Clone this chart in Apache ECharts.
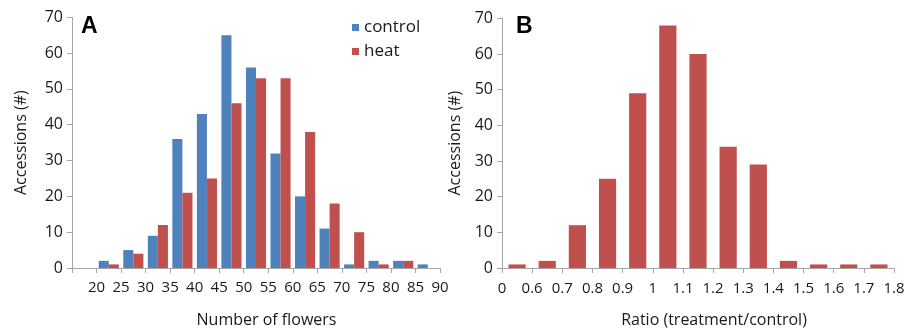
<!DOCTYPE html>
<html>
<head>
<meta charset="utf-8">
<script src="https://cdn.jsdelivr.net/npm/echarts@6/dist/echarts.min.js"></script>
<style>html,body{margin:0;padding:0;background:#fff;}#c{width:910px;height:333px;}</style>
</head>
<body>
<div id="c"></div>
<script>
// Panel A: 15 slots; tick labels sit at the right boundary of each slot
const tickLabelsA = ['20','25','30','35','40','45','50','55','60','65','70','75','80','85','90'];
const controlA = [0, 2, 5, 9, 36, 43, 65, 56, 32, 20, 11, 1, 2, 2, 1];
const heatA    = [0, 1, 4, 12, 21, 25, 46, 53, 53, 38, 18, 10, 1, 2, 0];
// Panel B: 13 slots; tick labels at every slot boundary (incl. origin)
const tickLabelsB = ['0','0.6','0.7','0.8','0.9','1','1.1','1.2','1.3','1.4','1.5','1.6','1.7','1.8'];
const ratioB = [1, 2, 12, 25, 49, 68, 60, 34, 29, 2, 1, 1, 1];

const FONT = 'Open Sans';
const AX = '#a6a6a6';
const TXT = '#1a1a1a';
const BLUE = '#4F81BD', RED = '#C0504D';

const gA = {left: 72, top: 17.3, width: 368, height: 253.4};
const gB = {left: 502, top: 18.3, width: 392, height: 253.4};

function yMain(gi, gap) {
  return {
    type: 'value', gridIndex: gi, min: 0, max: 70, interval: 10,
    axisLine: {show: true, lineStyle: {color: AX}},
    axisTick: {show: true, length: 5, lineStyle: {color: AX}},
    splitLine: {show: false},
    axisLabel: {fontFamily: FONT, fontSize: 16, color: TXT, margin: 9},
    name: 'Accessions (#)', nameLocation: 'middle', nameGap: gap,
    nameTextStyle: {fontFamily: FONT, fontSize: 16, color: TXT}
  };
}
function yHidden(gi) {
  return {type: 'value', gridIndex: gi, min: 0, max: 70, show: false};
}
function xCat(gi, n, name, gap, shift) {
  return {
    type: 'category', gridIndex: gi, data: Array.from({length: n}, (_, i) => String(i)),
    axisLine: {show: true, lineStyle: {color: AX}},
    axisTick: {show: true, length: 5, lineStyle: {color: AX}},
    axisLabel: {show: false},
    name: name, nameLocation: 'middle', nameGap: gap,
    nameTextStyle: {fontFamily: FONT, fontSize: 16, color: TXT, padding: [0, 0, 0, shift]}
  };
}
function xLab(gi, n, fmt) {
  return {
    type: 'value', gridIndex: gi, min: 0, max: n, interval: 1,
    axisLine: {show: false}, axisTick: {show: false}, splitLine: {show: false},
    axisLabel: {show: true, showMinLabel: true, showMaxLabel: true, formatter: fmt,
      fontFamily: FONT, fontSize: 15, color: TXT, margin: 10}
  };
}

const option = {
  animation: false,
  backgroundColor: '#fff',
  title: [
    {text: 'A', left: 81, top: 15, padding: 0, textStyle: {fontFamily: 'Liberation Sans', fontWeight: 'bold', fontSize: 23, color: '#000'}},
    {text: 'B', left: 516, top: 15, padding: 0, textStyle: {fontFamily: 'Liberation Sans', fontWeight: 'bold', fontSize: 23, color: '#000'}}
  ],
  legend: {
    data: ['control', 'heat'], orient: 'vertical', left: 352, top: 19,
    icon: 'rect', itemWidth: 7, itemHeight: 7, itemGap: 7, padding: 0,
    textStyle: {fontFamily: FONT, fontSize: 17, color: TXT}
  },
  grid: [gA, gA, gB, gB],
  xAxis: [
    xCat(0, tickLabelsA.length, 'Number of flowers', 44, 21),
    xLab(1, tickLabelsA.length, v => (v >= 1 ? tickLabelsA[v - 1] : '')),
    xCat(2, ratioB.length, 'Ratio (treatment/control)', 44, 32),
    xLab(3, ratioB.length, v => tickLabelsB[v])
  ],
  yAxis: [yMain(0, 43), yHidden(1), yMain(2, 39), yHidden(3)],
  series: [
    {name: 'control', type: 'bar', xAxisIndex: 0, yAxisIndex: 0, data: controlA,
      itemStyle: {color: BLUE}, barGap: '0%', barCategoryGap: '18%'},
    {name: 'heat', type: 'bar', xAxisIndex: 0, yAxisIndex: 0, data: heatA,
      itemStyle: {color: RED}, barGap: '0%', barCategoryGap: '18%'},
    {name: 'ratio', type: 'bar', xAxisIndex: 2, yAxisIndex: 2, data: ratioB,
      itemStyle: {color: RED}, barCategoryGap: '43%'}
  ]
};
echarts.init(document.getElementById('c'), null, {renderer: 'canvas'}).setOption(option);
</script>
</body>
</html>
